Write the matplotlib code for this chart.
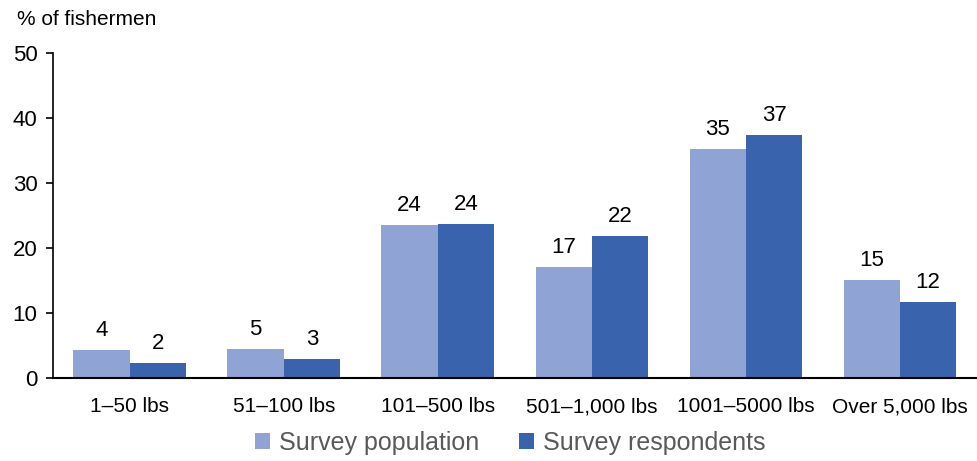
import matplotlib.pyplot as plt
import numpy as np

plt.rcParams['font.family'] = ['Liberation Sans', 'DejaVu Sans']

categories = ['1–50 lbs', '51–100 lbs', '101–500 lbs', '501–1,000 lbs', '1001–5000 lbs', 'Over 5,000 lbs']
population = [4.3, 4.5, 23.5, 17.1, 35.2, 15.1]
respondents = [2.3, 2.9, 23.7, 21.8, 37.4, 11.7]
population_labels = ['4', '5', '24', '17', '35', '15']
respondents_labels = ['2', '3', '24', '22', '37', '12']

col_pop = '#8FA3D5'
col_resp = '#3A63AD'

fig = plt.figure(figsize=(9.77, 4.61), dpi=100)
ax = fig.add_axes([0.054, 0.18, 0.946, 0.705])

x = np.arange(len(categories))
w = 0.366
b1 = ax.bar(x - w / 2, population, w, color=col_pop, label='Survey population')
b2 = ax.bar(x + w / 2, respondents, w, color=col_resp, label='Survey respondents')

for bars, labels in ((b1, population_labels), (b2, respondents_labels)):
    for bar, lab in zip(bars, labels):
        ax.text(bar.get_x() + bar.get_width() / 2, bar.get_height() + 1.4, lab,
                ha='center', va='bottom', fontsize=16)

ax.set_xlim(-0.5, 5.5)
ax.set_ylim(0, 50)
ax.set_yticks(range(0, 51, 10))
ax.set_xticks(x)
ax.set_xticklabels(categories, fontsize=15)
ax.tick_params(axis='y', labelsize=16, direction='out', length=5, width=1.2, pad=6)
ax.tick_params(axis='x', length=0, pad=14)
for s in ('top', 'right'):
    ax.spines[s].set_visible(False)
ax.spines['left'].set_linewidth(1.2)
ax.spines['bottom'].set_linewidth(1.5)

fig.text(0.017, 0.958, '% of fishermen', fontsize=15, ha='left', va='center')

leg = fig.legend(loc='center', bbox_to_anchor=(0.522, 0.04), ncol=2, frameon=False,
                 fontsize=18, handlelength=0.6, handleheight=0.6, handletextpad=0.35,
                 columnspacing=1.6)
for t in leg.get_texts():
    t.set_color('#595959')

fig.savefig('out.png', dpi=100)
